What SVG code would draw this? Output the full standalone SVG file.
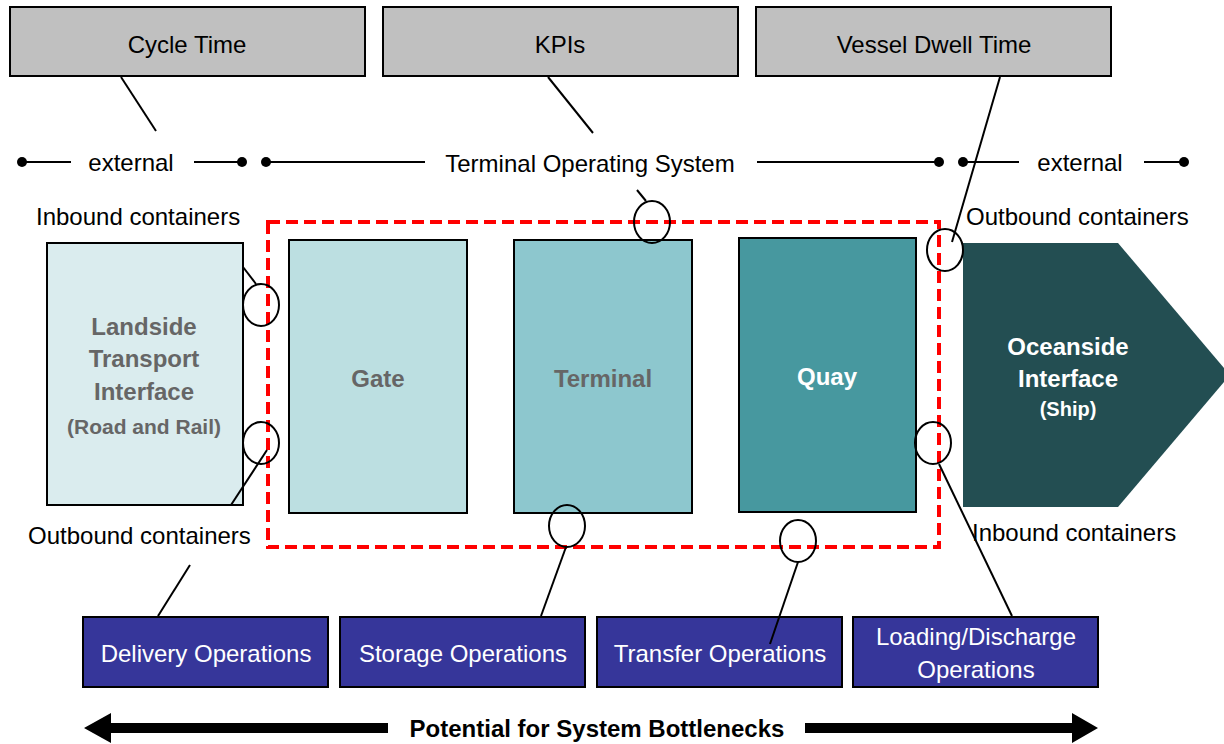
<svg xmlns="http://www.w3.org/2000/svg" width="1224" height="744" viewBox="0 0 1224 744">
<style>
text{font-family:"Liberation Sans",Arial,sans-serif;font-size:24px;fill:#000}
.c{text-anchor:middle}
.b{font-weight:bold}
.g{fill:#666666}
.w{fill:#ffffff}
.kpi{fill:#c0c0c0;stroke:#000;stroke-width:2}
.ops{fill:#36369a;stroke:#000;stroke-width:2}
.stage{stroke:#000;stroke-width:2}
.ln{stroke:#000;stroke-width:2;fill:none}
.ring{fill:none;stroke:#000;stroke-width:2}
</style>
<rect width="1224" height="744" fill="#fff"/>

<g id="kpi-cycle"><rect class="kpi" x="10" y="7" width="355" height="69"/><text class="c" x="187" y="53">Cycle Time</text></g>
<g id="kpi-kpis"><rect class="kpi" x="383" y="7" width="355" height="69"/><text class="c" x="560" y="53">KPIs</text></g>
<g id="kpi-vessel"><rect class="kpi" x="756" y="7" width="355" height="69"/><text class="c" x="934" y="53">Vessel Dwell Time</text></g>

<g id="timeline">
<line class="ln" x1="22" y1="162" x2="71" y2="162"/><circle cx="22" cy="162" r="5"/>
<text class="c" x="131" y="171">external</text>
<line class="ln" x1="194" y1="162" x2="242" y2="162"/><circle cx="242" cy="162" r="5"/>
<circle cx="266" cy="162" r="5"/><line class="ln" x1="266" y1="162" x2="425" y2="162"/>
<text class="c" x="590" y="172">Terminal Operating System</text>
<line class="ln" x1="757" y1="162" x2="939" y2="162"/><circle cx="939" cy="162" r="5"/>
<circle cx="963" cy="162" r="5"/><line class="ln" x1="963" y1="162" x2="1019" y2="162"/>
<text class="c" x="1080" y="171">external</text>
<line class="ln" x1="1144" y1="162" x2="1184" y2="162"/><circle cx="1184" cy="162" r="5"/>
</g>

<g id="labels">
<text x="36" y="225">Inbound containers</text>
<text x="966" y="225">Outbound containers</text>
<text x="28" y="544">Outbound containers</text>
<text x="972" y="541">Inbound containers</text>
</g>

<g id="tos-boundary"><rect x="268" y="222" width="671" height="325" fill="none" stroke="#ff0000" stroke-width="4" stroke-dasharray="12,6"/></g>

<g id="landside"><rect class="stage" x="47" y="243" width="196" height="262" fill="#daecee"/>
<text class="c b g" x="144" y="335">Landside</text>
<text class="c b g" x="144" y="367">Transport</text>
<text class="c b g" x="144" y="400">Interface</text>
<text class="c b g" x="144" y="434" style="font-size:21px">(Road and Rail)</text></g>

<g id="gate"><rect class="stage" x="289" y="240" width="178" height="273" fill="#bcdfe1"/><text class="c b g" x="378" y="387">Gate</text></g>
<g id="terminal"><rect class="stage" x="514" y="240" width="178" height="273" fill="#8dc7ce"/><text class="c b g" x="603" y="387">Terminal</text></g>
<g id="quay"><rect class="stage" x="739" y="238" width="177" height="274" fill="#47989f"/><text class="c b w" x="827" y="385">Quay</text></g>

<g id="oceanside"><polygon points="963,243 1118,243 1230,375 1118,507 963,507" fill="#234e52"/>
<text class="c b w" x="1068" y="355">Oceanside</text>
<text class="c b w" x="1068" y="387">Interface</text>
<text class="c b w" x="1068" y="416" style="font-size:20px">(Ship)</text></g>

<g id="ops-delivery"><rect class="ops" x="83" y="617" width="245" height="70"/><text class="c w" x="206" y="662">Delivery Operations</text></g>
<g id="ops-storage"><rect class="ops" x="340" y="617" width="245" height="70"/><text class="c w" x="463" y="662">Storage Operations</text></g>
<g id="ops-transfer"><rect class="ops" x="597" y="617" width="245" height="70"/><text class="c w" x="720" y="662">Transfer Operations</text></g>
<g id="ops-loading"><rect class="ops" x="853" y="617" width="245" height="70"/><text class="c w" x="976" y="645">Loading/Discharge</text><text class="c w" x="976" y="678">Operations</text></g>

<g id="connectors">
<line class="ln" x1="121" y1="77" x2="156" y2="131"/>
<line class="ln" x1="548" y1="77" x2="593" y2="133"/>
<line class="ln" x1="1000" y1="77" x2="952" y2="242"/>
<line class="ln" x1="637" y1="190" x2="646" y2="201"/>
<ellipse class="ring" cx="652" cy="222" rx="18" ry="21"/>
<line class="ln" x1="243" y1="267" x2="256" y2="284"/>
<ellipse class="ring" cx="261" cy="305" rx="18" ry="21"/>
<ellipse class="ring" cx="261" cy="443" rx="18" ry="21"/>
<line class="ln" x1="267" y1="450" x2="231" y2="505"/>
<line class="ln" x1="190" y1="565" x2="158" y2="616"/>
<ellipse class="ring" cx="567" cy="526" rx="18" ry="21"/>
<line class="ln" x1="566" y1="547" x2="541" y2="616"/>
<ellipse class="ring" cx="798" cy="541" rx="18" ry="21"/>
<line class="ln" x1="798" y1="562" x2="770" y2="644"/>
<ellipse class="ring" cx="945" cy="250" rx="18" ry="21"/>
<ellipse class="ring" cx="933" cy="443" rx="18" ry="21"/>
<line class="ln" x1="939" y1="464" x2="1012" y2="616"/>
</g>

<g id="bottleneck">
<polygon points="84,728 111,713 111,723 388,723 388,733 111,733 111,743"/>
<polygon points="1098,728 1072,713 1072,723 805,723 805,733 1072,733 1072,743"/>
<text class="c b" x="597" y="737">Potential for System Bottlenecks</text>
</g>
</svg>
